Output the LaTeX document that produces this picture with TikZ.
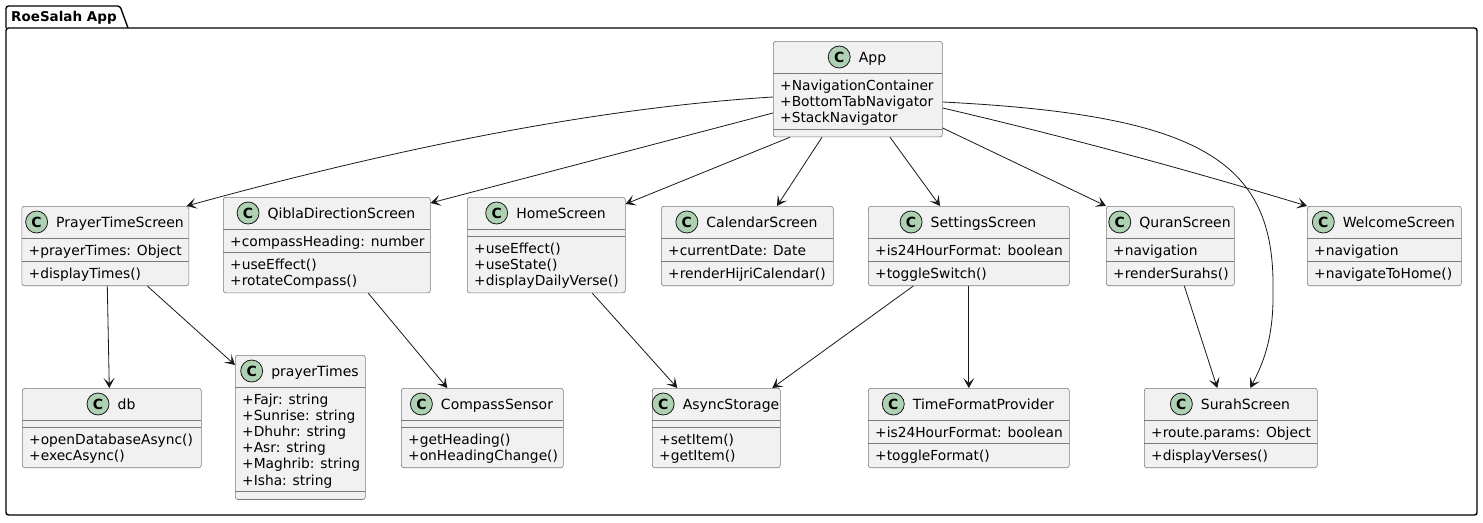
\documentclass[tikz,border=0pt]{standalone}
\usepackage{fontspec}
\setmainfont{DejaVu Sans}
\usetikzlibrary{positioning,calc,arrows.meta}

\definecolor{boxfill}{HTML}{F1F1F1}
\definecolor{iconfill}{HTML}{ADD1B2}
\definecolor{umlline}{HTML}{181818}
\definecolor{boxline}{HTML}{7A7A7A}

\tikzset{
  classbox/.style={draw=boxline, line width=0.6pt, fill=boxfill, rounded corners=2.5pt,
    anchor=north west, inner sep=0pt},
  classline/.style={draw=boxline, line width=0.6pt},
  classname/.style={inner sep=0pt, text height=13pt, text depth=3pt,
    font=\fontsize{14}{16}\selectfont},
  classicon/.style={circle, draw=umlline, line width=0.8pt, fill=iconfill,
    minimum size=22pt, inner sep=0pt, font=\bfseries\fontsize{14}{16}\selectfont},
  member/.style={anchor=base west, inner sep=0pt, font=\fontsize{13.8}{16}\selectfont},
  pkgline/.style={draw=black, line width=1.4pt, rounded corners=2.5pt},
  dep/.style={draw=umlline, line width=0.8pt, -{Stealth[length=10pt,width=11pt,inset=5pt]}},
}

% name, title, left, top, right, #attrs, attrs, #methods, methods
\newcommand{\umlclass}[9]{%
  \pgfmathsetmacro{\clsHl}{#4+32}
  \pgfmathsetmacro{\clsSep}{\clsHl+7.5+16.2*#6}
  \pgfmathsetmacro{\clsBot}{\clsSep+7.5+16.2*#8}
  \pgfmathsetmacro{\clsW}{#5-#3}
  \pgfmathsetmacro{\clsH}{\clsBot-#4}
  \pgfmathsetmacro{\clsCx}{(#3+#5)/2+15}
  \node[classbox, minimum width=\clsW pt, minimum height=\clsH pt] (#1) at (#3,#4) {};
  \node[classname] (#1-name) at (\clsCx,#4+16) {#2};
  \node[classicon, left=8pt of #1-name] (#1-icon) {C};
  \draw[classline] (#3,\clsHl) -- (#5,\clsHl);
  \draw[classline] (#3,\clsSep) -- (#5,\clsSep);
  \ifnum#6>0\relax
    \foreach \m [count=\i] in {#7} {\node[member] (#1-a\i) at (#3+7,\clsHl+17+16.2*\i-16.2) {\m};}
  \fi
  \ifnum#8>0\relax
    \foreach \m [count=\i] in {#9} {\node[member] (#1-m\i) at (#3+7,\clsSep+17+16.2*\i-16.2) {\m};}
  \fi
}

\begin{document}
\begin{tikzpicture}[x=1pt, y=-1pt]
\useasboundingbox (0,0) rectangle (1483,522);

% package frame
\draw[pkgline] (6,28) -- (6,515) -- (1477,515) -- (1477,28) -- cycle;
\draw[pkgline] (6,28) -- (6,6) -- (120,6) -- (128,28);
\node[anchor=base west, inner sep=0pt, font=\bfseries\fontsize{13.5}{16}\selectfont] (pkg-title) at (11,21) {RoeSalah App};

\umlclass{app}{App}{773}{41}{942}{3}{+NavigationContainer,+BottomTabNavigator,+StackNavigator}{0}{}
\umlclass{prayer}{PrayerTimeScreen}{21.5}{206}{188.5}{1}{+prayerTimes: Object}{1}{+displayTimes()}
\umlclass{qibla}{QiblaDirectionScreen}{223}{197}{430}{1}{+compassHeading: number}{2}{+useEffect(),+rotateCompass()}
\umlclass{home}{HomeScreen}{467}{197}{625}{0}{}{3}{+useEffect(),+useState(),+displayDailyVerse()}
\umlclass{calendar}{CalendarScreen}{661}{206}{833}{1}{+currentDate: Date}{1}{+renderHijriCalendar()}
\umlclass{settings}{SettingsScreen}{868}{206}{1069}{1}{+is24HourFormat: boolean}{1}{+toggleSwitch()}
\umlclass{quran}{QuranScreen}{1106}{206}{1234}{1}{+navigation}{1}{+renderSurahs()}
\umlclass{welcome}{WelcomeScreen}{1307}{206}{1461}{1}{+navigation}{1}{+navigateToHome()}
\umlclass{db}{db}{22}{388}{201}{0}{}{2}{+openDatabaseAsync(),+execAsync()}
\umlclass{times}{prayerTimes}{235}{355}{365}{6}{+Fajr: string,+Sunrise: string,+Dhuhr: string,+Asr: string,+Maghrib: string,+Isha: string}{0}{}
\umlclass{compass}{CompassSensor}{401}{388}{563}{0}{}{2}{+getHeading(),+onHeadingChange()}
\umlclass{async}{AsyncStorage}{652}{388}{780}{0}{}{2}{+setItem(),+getItem()}
\umlclass{timefmt}{TimeFormatProvider}{868}{388}{1069}{1}{+is24HourFormat: boolean}{1}{+toggleFormat()}
\umlclass{surah}{SurahScreen}{1144}{388}{1317}{1}{+route.params: Object}{1}{+displayVerses()}

% App uses the screens
\draw[dep] ($(app.north west)+(0,56)$) .. controls (560,110) and (336,165) .. ($(prayer.north east)+(-2.5,0)$);
\draw[dep] ($(app.north west)+(0,72)$) -- ($(qibla.north east)+(0,6)$);
\draw[dep] ($(app.south west)+(17,0)$) -- ($(home.north east)+(0,7)$);
\draw[dep] ($(app.south west)+(49,0)$) -- ($(calendar.north west)+(116,0)$);
\draw[dep] ($(app.south west)+(117,0)$) -- ($(settings.north west)+(72,0)$);
\draw[dep] ($(app.north east)+(0,87)$) -- (quran.north west);
\draw[dep] ($(app.north east)+(0,67)$) .. controls (1063,136) and (1185,169) .. (welcome.north west);
\draw[dep] ($(app.north east)+(0,61)$) .. controls (1200,115) and (1275,160) .. (1273,290)
  .. controls (1274,340) and (1262,365) .. ($(surah.north)+(19.5,0)$);

% second row
\draw[dep] ($(prayer.south)+(2,0)$) -- ($(db.north)+(-2.5,0)$);
\draw[dep] ($(prayer.south)+(42,0)$) -- ($(times.north west)+(0,10)$);
\draw[dep] ($(qibla.south)+(41.5,0)$) -- ($(compass.north)+(-35,0)$);
\draw[dep] ($(home.south)+(46,0)$) -- ($(async.north)+(-39,0)$);
\draw[dep] ($(settings.south)+(-55.5,0)$) -- ($(async.north)+(56,0)$);
\draw[dep] (settings.south) -- (timefmt.north);
\draw[dep] ($(quran.south)+(14,0)$) -- ($(surah.north)+(-13.5,0)$);
\end{tikzpicture}
\end{document}
